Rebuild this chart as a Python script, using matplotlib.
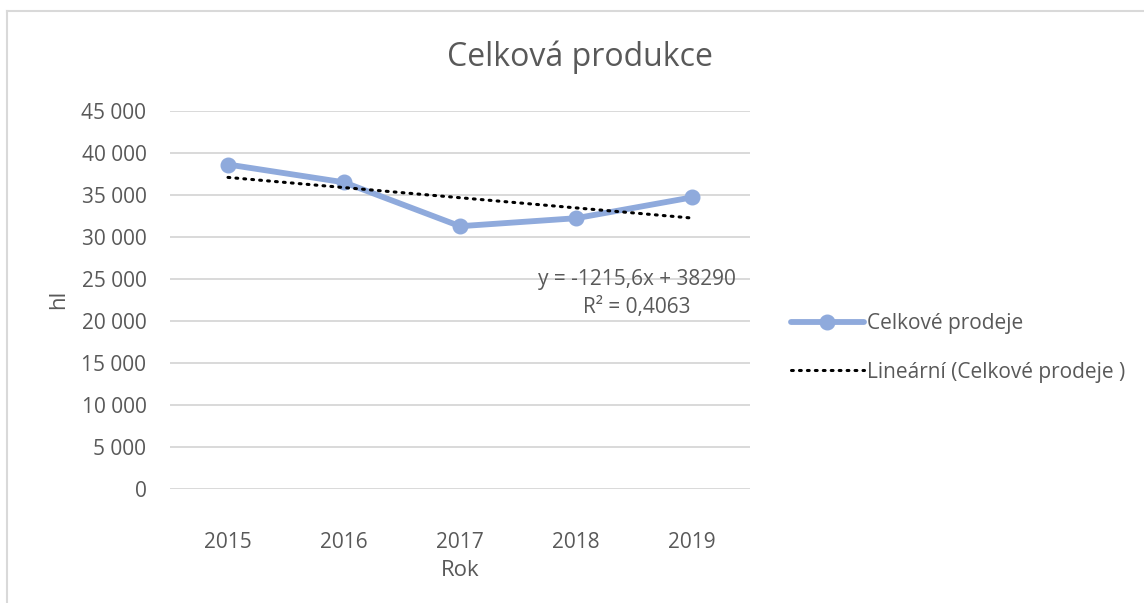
import numpy as np
import matplotlib
matplotlib.use("Agg")
import matplotlib.pyplot as plt
from matplotlib.lines import Line2D

# Data
roky = ["2015", "2016", "2017", "2018", "2019"]
prodeje = [38600, 36480, 31260, 32210, 34690]
y_ticks = [0, 5000, 10000, 15000, 20000, 25000, 30000, 35000, 40000, 45000]

seda = "#595959"
modra = "#8FAADC"
W, H = 1144, 603

plt.rcParams['font.family'] = ['Open Sans', 'DejaVu Sans']

fig = plt.figure(figsize=(W / 100, H / 100), dpi=100)
ax = fig.add_axes([170 / W, 1 - 489 / H, 580 / W, (489 - 110.7) / H])

x = np.arange(len(roky))
ax.plot(x, prodeje, color=modra, lw=4.2, marker='o', markersize=10.5,
        solid_capstyle='round', label='Celkové prodeje', zorder=3)

# linear trendline
k, q = np.polyfit(x + 1, prodeje, 1)
trend = k * (x + 1) + q
ax.plot(x, trend, color='black', lw=2.2, linestyle=(0, (0.6, 2.0)),
        dash_capstyle='round', label='Lineární (Celkové prodeje )', zorder=4)

fig.text(637 / W, 1 - 280 / H, "y = -1215,6x + 38290", fontsize=15,
         color=seda, ha='center', va='center')
fig.text(637 / W, 1 - 308 / H, "R² = 0,4063", fontsize=15,
         color=seda, ha='center', va='center')

ax.set_xlim(-0.5, len(roky) - 0.5)
ax.set_ylim(0, 45000)
ax.set_xticks(x)
ax.set_xticklabels(roky)
ax.set_yticks(y_ticks)
ax.set_yticklabels([f"{v:,}".replace(",", " ") for v in y_ticks])
ax.tick_params(axis='both', length=0, labelsize=15, labelcolor=seda)
ax.tick_params(axis='y', pad=17)
ax.tick_params(axis='x', pad=31)
ax.grid(axis='y', color='#D9D9D9', lw=1.4)
ax.set_axisbelow(True)
for s in ax.spines.values():
    s.set_visible(False)

ax.set_ylabel("hl", fontsize=16, color=seda, labelpad=9)
ax.set_xlabel("Rok", fontsize=16, color=seda, labelpad=5)

fig.text(580 / W, 1 - 57 / H, "Celková produkce", fontsize=23,
         color=seda, ha='center', va='center')

ax.legend(loc='center left', bbox_to_anchor=(772 / W, 1 - 348 / H),
          bbox_transform=fig.transFigure, frameon=False, fontsize=15,
          labelcolor=seda, handlelength=3.5, handletextpad=0.15,
          labelspacing=1.3)

# outer chart border (left and top edges visible)
fig.add_artist(Line2D([7 / W, 7 / W], [0, 1 - 11 / H],
                      transform=fig.transFigure, color='#D9D9D9', lw=1.5))
fig.add_artist(Line2D([7 / W, 1], [1 - 11 / H, 1 - 11 / H],
                      transform=fig.transFigure, color='#D9D9D9', lw=1.5))

fig.savefig("out.png", dpi=100)
